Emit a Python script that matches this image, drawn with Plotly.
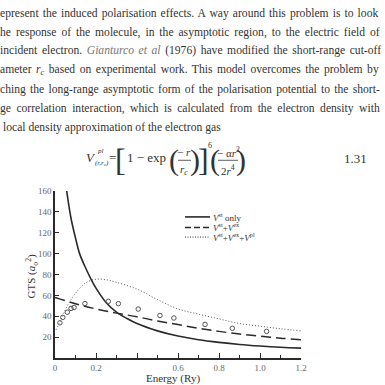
import re
import plotly.graph_objects as go

# ---------------- data ----------------
solid_E = [0.057, 0.07, 0.08, 0.10, 0.12, 0.15, 0.18, 0.20, 0.25, 0.30, 0.35, 0.40,
           0.50, 0.60, 0.70, 0.80, 0.90, 1.00, 1.10, 1.20]
solid_G = [160, 143, 132, 115, 100, 86, 74, 67, 53, 44, 38, 33,
           26, 21, 17.5, 15, 13, 11.5, 10.3, 9.5]

dash_E = [0.0, 0.1, 0.2, 0.3, 0.4, 0.5, 0.6, 0.7, 0.8, 0.9, 1.0, 1.1, 1.2]
dash_G = [58, 52, 47, 43, 39.5, 35.5, 32, 28.5, 25.5, 23, 21, 19, 17.5]

dot_E = [0.005, 0.03, 0.06, 0.10, 0.15, 0.20, 0.25, 0.30, 0.40, 0.50, 0.60,
         0.70, 0.80, 0.90, 1.00, 1.10, 1.20]
dot_G = [27, 37, 50, 62, 72, 75.5, 75, 72.5, 66, 56, 47,
         42, 37.5, 33, 30.5, 28, 26]

exp_E = [0.024, 0.038, 0.060, 0.078, 0.093, 0.146, 0.260, 0.309, 0.406,
         0.512, 0.580, 0.732, 0.865, 1.032]
exp_G = [33.7, 38.9, 43.9, 47.5, 48.4, 52.1, 54.3, 52.1, 46.9,
         40.7, 38.3, 32.2, 28.5, 25.5]

x_tickvals = [0, 0.2, 0.4, 0.6, 0.8, 1.0, 1.2]
x_ticktext = ["0", "0.2", "", "0.6", "0.8", "1.0", "1.2"]
y_tickvals = [20, 40, 60, 80, 100, 120, 140, 160]
y_ticktext = ["20", "40", "60", "80", "100", "120", "140", "160"]

legend_labels = ["<i>V</i><sup>st</sup> only",
                 "<i>V</i><sup>st</sup>+<i>V</i><sup>ex</sup>",
                 "<i>V</i><sup>st</sup>+<i>V</i><sup>ex</sup>+<i>V</i><sup>pl</sup>"]

text_lines = [
    "epresent the induced polarisation effects. A way around this problem is to look",
    "he response of the molecule, in the asymptotic region, to the electric field of",
    "incident electron. <span style='color:#777'><i>Gianturco et al</i></span> (1976) have modified the short-range cut-off",
    "ameter <i>r<sub>c</sub></i> based on experimental work. This model overcomes the problem by",
    "ching the long-range asymptotic form of the polarisation potential to the short-",
    "ge correlation interaction, which is calculated from the electron density with",
    "local density approximation of the electron gas",
]
justified = [True, True, True, True, True, True, False]

# ---------------- layout geometry ----------------
W = H = 385
L, R, T, B = 55, 84, 191, 20
PW = W - L - R
PH = H - T - B


def px(x):
    return (x - L) / PW


def py(y):
    return (H - B - y) / PH


# approximate Times-Roman advance widths (1/1000 em) for justification
TW = {' ': 250, '.': 250, ',': 250, '-': 333, '(': 333, ')': 333, 'A': 722, 'G': 722,
      'T': 611, 'I': 333, 'a': 444, 'b': 500, 'c': 444, 'd': 500, 'e': 444, 'f': 333,
      'g': 500, 'h': 500, 'i': 278, 'j': 278, 'k': 500, 'l': 278, 'm': 778, 'n': 500,
      'o': 500, 'p': 500, 'q': 500, 'r': 333, 's': 389, 't': 278, 'u': 500, 'v': 500,
      'w': 722, 'x': 500, 'y': 500, 'z': 444}


def plain(t):
    t = re.sub(r"<sub>(.*?)</sub>", r"\1", t)
    return re.sub(r"<[^>]+>", "", t)


def natural_width(t, size):
    return sum(TW.get(c, 500) for c in plain(t)) * size / 1000.0


SERIF = "Liberation Serif"
LINE = "#2a2a2a"
TXT = "#333333"
BODY = 11.6

fig = go.Figure()
fig.add_trace(go.Scatter(x=solid_E, y=solid_G, mode="lines",
                         line=dict(color=LINE, width=1.6, shape="spline"),
                         showlegend=False))
fig.add_trace(go.Scatter(x=dash_E, y=dash_G, mode="lines",
                         line=dict(color=LINE, width=1.5, dash="10px,5px", shape="spline"),
                         showlegend=False))
fig.add_trace(go.Scatter(x=dot_E, y=dot_G, mode="lines",
                         line=dict(color="#555555", width=1, dash="1px,2px", shape="spline"),
                         showlegend=False))
fig.add_trace(go.Scatter(x=exp_E, y=exp_G, mode="markers",
                         marker=dict(symbol="circle-open", size=4.5,
                                     color="#555555", line=dict(width=1)),
                         showlegend=False))

annotations = []
shapes = []

# body text
line_y = [6, 25.5, 45, 65, 85, 105, 125]
for t, yy, j in zip(text_lines, line_y, justified):
    x0 = 0 if j else 3
    if j:
        gaps = plain(t).count(" ")
        ws = (380 - x0 - natural_width(t, BODY)) / max(gaps, 1)
        t = "<span style='word-spacing:%.2fpx'>%s</span>" % (ws, t)
    annotations.append(dict(text=t, x=px(x0 - 2), y=py(yy),
                            xref="paper", yref="paper", xanchor="left", align="left",
                            yanchor="middle", showarrow=False,
                            font=dict(family=SERIF, size=BODY, color=TXT)))

# equation
eq_font = dict(family=SERIF, size=13, color=TXT)
eq_small = dict(family=SERIF, size=11, color=TXT)
big_paren = dict(family=SERIF, size=30, color=TXT)
big_brack = dict(family=SERIF, size=32, color=TXT)
tiny = dict(family=SERIF, size=7, color=TXT)


def eq(t, x, y, font=eq_font):
    annotations.append(dict(text=t, x=px(x), y=py(y), xref="paper", yref="paper",
                            xanchor="center", yanchor="middle", showarrow=False,
                            font=font))


eq("<i>V</i>", 91, 156)
eq("<i>pl</i>", 100, 149, tiny)
eq("<i>(r,r<sub>c</sub>)</i>", 102, 162, tiny)
eq("=", 112, 156)
eq("[", 120, 159, big_brack)
eq("1 − exp", 146, 156)
eq("(", 174, 159, big_paren)
eq("− <i>r</i>", 184, 150, eq_small)
eq("<i>r<sub>c</sub></i>", 184, 169, eq_small)
eq(")", 195, 159, big_paren)
eq("]", 203, 159, big_brack)
eq("6", 210, 144, dict(family=SERIF, size=8, color=TXT))
eq("(", 215, 159, big_paren)
eq("− α<i>r</i><sup>2</sup>", 228, 150, eq_small)
eq("2<i>r</i><sup>4</sup>", 228, 169, eq_small)
eq(")", 241, 159, big_paren)
eq("1.31", 355, 157)
for x0, x1 in [(178, 191), (218, 238)]:
    shapes.append(dict(type="line", xref="paper", yref="paper",
                       x0=px(x0), x1=px(x1), y0=py(159), y1=py(159),
                       line=dict(color=TXT, width=0.8)))

# legend (manual)
leg_y = [218, 229, 239]
leg_dash = ["solid", "6px,3px", "1px,1.5px"]
leg_w = [1.6, 1.5, 1]
for lab, yy, d, w in zip(legend_labels, leg_y, leg_dash, leg_w):
    shapes.append(dict(type="line", xref="paper", yref="paper",
                       x0=px(185), x1=px(210), y0=py(yy), y1=py(yy),
                       line=dict(color=LINE, width=w, dash=d)))
    annotations.append(dict(text=lab, x=px(211), y=py(yy), xref="paper", yref="paper",
                            xanchor="left", align="left", yanchor="middle", showarrow=False,
                            font=dict(family=SERIF, size=9, color=TXT)))

# axis titles
annotations.append(dict(text="GTS (<i>a</i><sub>o</sub><sup>2</sup>)", x=px(32), y=py(280),
                        xref="paper", yref="paper", textangle=-90, showarrow=False,
                        xanchor="center", yanchor="middle",
                        font=dict(family=SERIF, size=11, color=TXT)))
annotations.append(dict(text="Energy (Ry)", x=px(173), y=py(378),
                        xref="paper", yref="paper", showarrow=False,
                        xanchor="center", yanchor="top",
                        font=dict(family=SERIF, size=11, color=TXT)))

fig.update_layout(
    width=W, height=H,
    margin=dict(l=L, r=R, t=T, b=B, pad=0),
    paper_bgcolor="white", plot_bgcolor="white",
    annotations=annotations, shapes=shapes,
    xaxis=dict(range=[0, 1.2], tickvals=x_tickvals, ticktext=x_ticktext,
               ticks="inside", ticklen=5, tickwidth=1.2, tickcolor=LINE,
               showline=True, linecolor=LINE, linewidth=1.6,
               showgrid=False, zeroline=False,
               minor=dict(dtick=0.1, ticks="inside", ticklen=3, tickcolor=LINE, showgrid=False),
               tickfont=dict(family=SERIF, size=9, color="#666666")),
    yaxis=dict(range=[0, 160], tickvals=y_tickvals, ticktext=y_ticktext,
               ticks="inside", ticklen=4, tickwidth=1.2, tickcolor=LINE,
               showline=True, linecolor=LINE, linewidth=1.6,
               showgrid=False, zeroline=False,
               tickfont=dict(family=SERIF, size=9, color="#666666")),
)

fig.write_html("out.html")
